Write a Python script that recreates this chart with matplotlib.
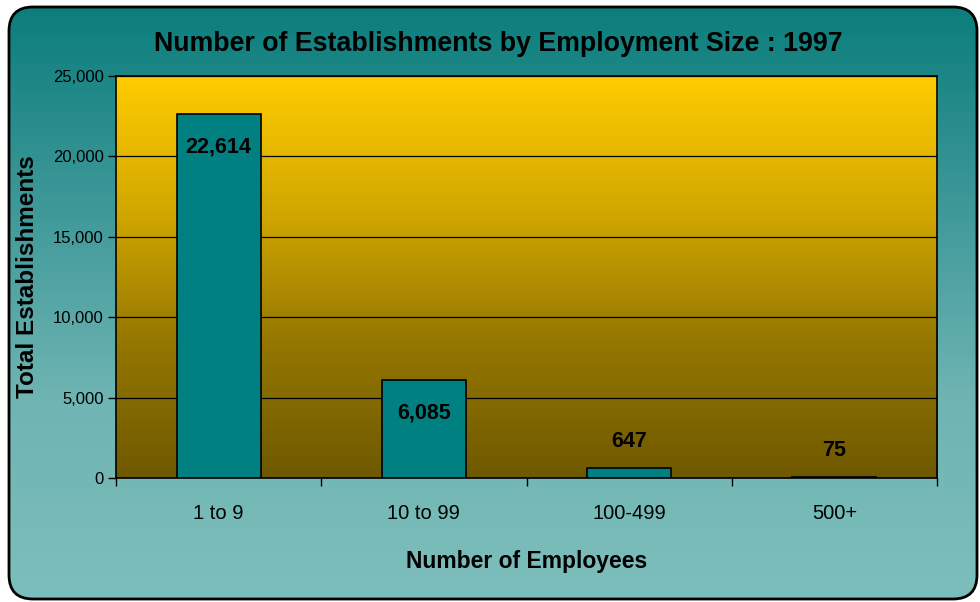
import matplotlib
matplotlib.use("Agg")
import matplotlib.pyplot as plt
import numpy as np
from matplotlib.patches import FancyBboxPatch
from matplotlib.colors import LinearSegmentedColormap
from matplotlib.ticker import FuncFormatter

plt.rcParams['font.family'] = ['Liberation Sans', 'DejaVu Sans']

categories = ["1 to 9", "10 to 99", "100-499", "500+"]
establishments = [22614, 6085, 647, 75]
yticks = [0, 5000, 10000, 15000, 20000, 25000]

fig = plt.figure(figsize=(9.8, 6.02), dpi=100)
fig.patch.set_facecolor("white")

# rounded teal panel behind everything
bg = fig.add_axes([0, 0, 1, 1], zorder=0)
bg.set_xlim(0, 980)
bg.set_ylim(602, 0)
bg.axis("off")
panel = FancyBboxPatch((9, 7), 968, 592, boxstyle="round,pad=0,rounding_size=24",
                       facecolor="none", edgecolor="black", linewidth=2, zorder=3)
bg.add_patch(panel)
teal = LinearSegmentedColormap.from_list("teal", ["#0b7e7c", "#3e9898", "#6fb5b3", "#7cbebb"])
grad = np.linspace(0, 1, 256).reshape(-1, 1)
im = bg.imshow(grad, cmap=teal, extent=[9, 977, 599, 7], aspect="auto", zorder=1)
im.set_clip_path(panel)

ax = fig.add_axes([116 / 980, 1 - 478 / 602, 821 / 980, 402 / 602], zorder=2)
gold = LinearSegmentedColormap.from_list("gold", ["#ffcc00", "#d2a800", "#947600", "#6f5900"])
ax.imshow(grad, cmap=gold, extent=[-0.5, 3.5, 0, 25000], aspect="auto", zorder=0)

x = np.arange(len(categories))
bars = ax.bar(x, establishments, width=0.41, color="#008080", edgecolor="black",
              linewidth=1.2, zorder=3)

for b, v in zip(bars, establishments):
    lab = f"{v:,}"
    cx = b.get_x() + b.get_width() / 2
    dy = -23.5 if v > 3000 else 19
    ax.annotate(lab, (cx, v), xytext=(0, dy), textcoords="offset points",
                ha="center", va="center", fontsize=15.5, fontweight="bold", zorder=4)

ax.set_xlim(-0.5, 3.5)
ax.set_ylim(0, 25000)
ax.set_yticks(yticks)
ax.yaxis.set_major_formatter(FuncFormatter(lambda v, p: f"{int(v):,}"))
ax.grid(axis="y", color="black", linewidth=0.9, zorder=1)
ax.set_axisbelow(True)
ax.set_xticks(x)
ax.set_xticklabels(categories, fontsize=14.5)
ax.set_xticks(np.arange(-0.5, 4, 1), minor=True)
ax.tick_params(axis="x", which="major", length=0, pad=19)
ax.tick_params(axis="x", which="minor", length=6, width=1, direction="out")
ax.tick_params(axis="y", length=6, width=1, direction="out", labelsize=12, pad=3)
for s in ax.spines.values():
    s.set_linewidth(1.2)

ax.set_ylabel("Total Establishments", fontsize=17.5, fontweight="bold")
ax.yaxis.set_label_coords(-77 / 821, 0.5)
ax.set_xlabel("Number of Employees", fontsize=16.5, fontweight="bold")
ax.xaxis.set_label_coords(0.5, -72 / 402)
fig.text(498 / 980, 1 - 44 / 602, "Number of Establishments by Employment Size : 1997",
         ha="center", va="center", fontsize=19.3, fontweight="bold")

fig.savefig("out.png", dpi=100)
